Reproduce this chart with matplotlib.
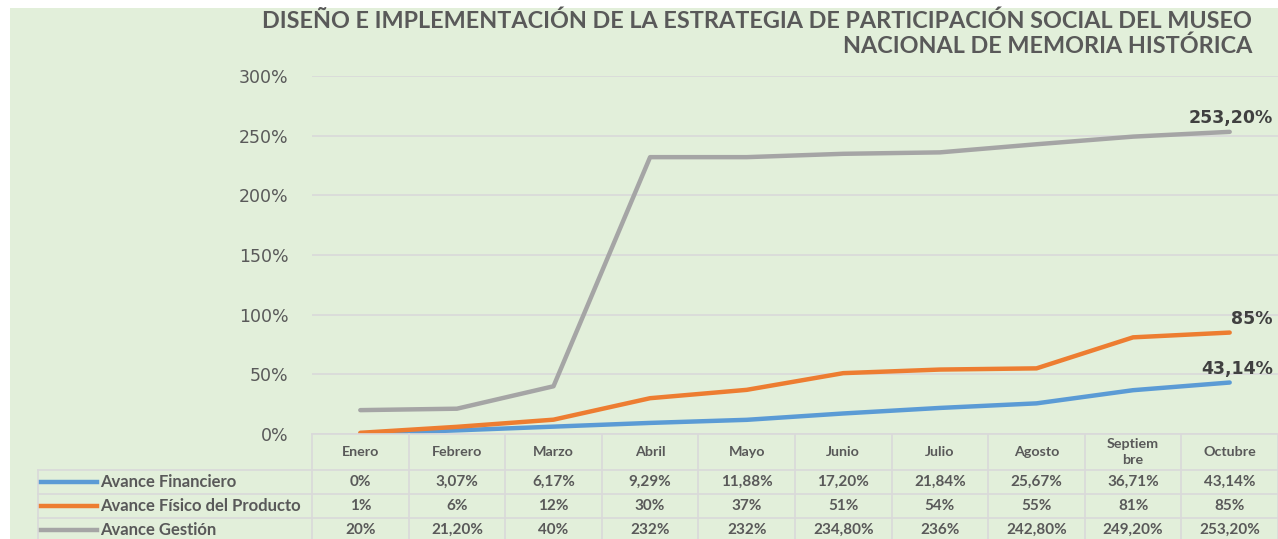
import matplotlib.pyplot as plt
from matplotlib.patches import Rectangle
from matplotlib.lines import Line2D
import matplotlib.transforms as mtrans

meses = ['Enero', 'Febrero', 'Marzo', 'Abril', 'Mayo', 'Junio', 'Julio',
         'Agosto', 'Septiem\nbre', 'Octubre']
financiero = [0.0, 3.07, 6.17, 9.29, 11.88, 17.20, 21.84, 25.67, 36.71, 43.14]
fisico = [1, 6, 12, 30, 37, 51, 54, 55, 81, 85]
gestion = [20, 21.20, 40, 232, 232, 234.80, 236, 242.80, 249.20, 253.20]
txt_financiero = ['0%', '3,07%', '6,17%', '9,29%', '11,88%', '17,20%', '21,84%', '25,67%', '36,71%', '43,14%']
txt_fisico = ['1%', '6%', '12%', '30%', '37%', '51%', '54%', '55%', '81%', '85%']
txt_gestion = ['20%', '21,20%', '40%', '232%', '232%', '234,80%', '236%', '242,80%', '249,20%', '253,20%']
nombres = ['Avance Financiero', 'Avance Físico del Producto', 'Avance Gestión']
titulo1 = 'DISEÑO E IMPLEMENTACIÓN DE LA ESTRATEGIA DE PARTICIPACIÓN SOCIAL DEL MUSEO'
titulo2 = 'NACIONAL DE MEMORIA HISTÓRICA'

colores = ['#5B9BD5', '#ED7D31', '#A5A5A5']
gris = '#595959'
rejilla = '#D9D9D9'
W, H = 1278, 539

fig = plt.figure(figsize=(W/100, H/100), dpi=100, facecolor='white')
fig.patches.append(Rectangle((10/W, 0), 1, 1-8/H, transform=fig.transFigure,
                             facecolor='#E2EFDA', edgecolor='none', zorder=-10))

def fy(p):
    return 1 - p/H

ax = fig.add_axes([312/W, fy(434), 1-312/W, fy(76)-fy(434)])
ax.set_facecolor('none')
x = list(range(len(meses)))
series = [financiero, fisico, gestion]
for s, c in zip(series, colores):
    ax.plot(x, [v/100 for v in s], color=c, linewidth=3.2, solid_capstyle='round', zorder=3)

ax.set_xlim(-0.5, 9.5)
ax.set_ylim(0, 3)
ax.set_yticks([0, 0.5, 1, 1.5, 2, 2.5, 3])
ax.set_yticklabels(['0%', '50%', '100%', '150%', '200%', '250%', '300%'])
ax.grid(axis='y', color=rejilla, linewidth=1.2)
ax.set_axisbelow(True)
ax.tick_params(axis='y', length=0, pad=17, labelsize=12.5, labelcolor=gris)
ax.tick_params(axis='x', length=0, labelbottom=False)
for sp in ax.spines.values():
    sp.set_visible(False)

# etiquetas del ultimo punto
etiq = [txt_financiero[-1], txt_fisico[-1], txt_gestion[-1]]
for s, e in zip(series, etiq):
    ax.annotate(e, (x[-1], s[-1]/100), xytext=(43, 5), textcoords='offset pixels',
                ha='right', va='bottom', fontsize=12.5, fontweight='bold',
                color='#404040', family='DejaVu Sans')

fig.text(1252/W, fy(21), titulo1, ha='right', va='center', fontsize=16.8,
         fontweight='bold', color=gris, family='Lato')
fig.text(1252/W, fy(46), titulo2, ha='right', va='center', fontsize=16.8,
         fontweight='bold', color=gris, family='Lato')

# tabla de datos
tr = mtrans.blended_transform_factory(ax.transData, fig.transFigure)
filas = [434, 470, 494, 518, 542]
bordes = [i - 0.5 for i in range(len(meses) + 1)]
for b in bordes:
    fig.add_artist(Line2D([b, b], [fy(434), fy(542)], transform=tr, color=rejilla, lw=1.2))
fig.add_artist(Line2D([38/W, 38/W], [fy(470), fy(542)], transform=fig.transFigure, color=rejilla, lw=1.2))
for i, r in enumerate(filas):
    x0 = 312/W if i == 0 else 38/W
    fig.add_artist(Line2D([x0, 1], [fy(r), fy(r)], transform=fig.transFigure, color=rejilla, lw=1.2))

for i, m in enumerate(meses):
    fig.text(i, fy(452), m, transform=tr, ha='center', va='center', fontsize=10.3,
             fontweight='bold', color=gris, family='Lato', linespacing=1.3)

textos = [txt_financiero, txt_fisico, txt_gestion]
for j, (n, t, c) in enumerate(zip(nombres, textos, colores)):
    yc = fy((filas[j+1] + filas[j+2]) / 2)
    fig.add_artist(Line2D([41/W, 97/W], [yc, yc], transform=fig.transFigure, color=c, lw=3.2))
    fig.text(100/W, yc, n, ha='left', va='center', fontsize=12, fontweight='bold',
             color=gris, family='Lato')
    for i, v in enumerate(t):
        fig.text(i, yc, v, transform=tr, ha='center', va='center', fontsize=11,
                 fontweight='bold', color=gris, family='Lato')

fig.savefig('out.png', dpi=100, facecolor='white')
